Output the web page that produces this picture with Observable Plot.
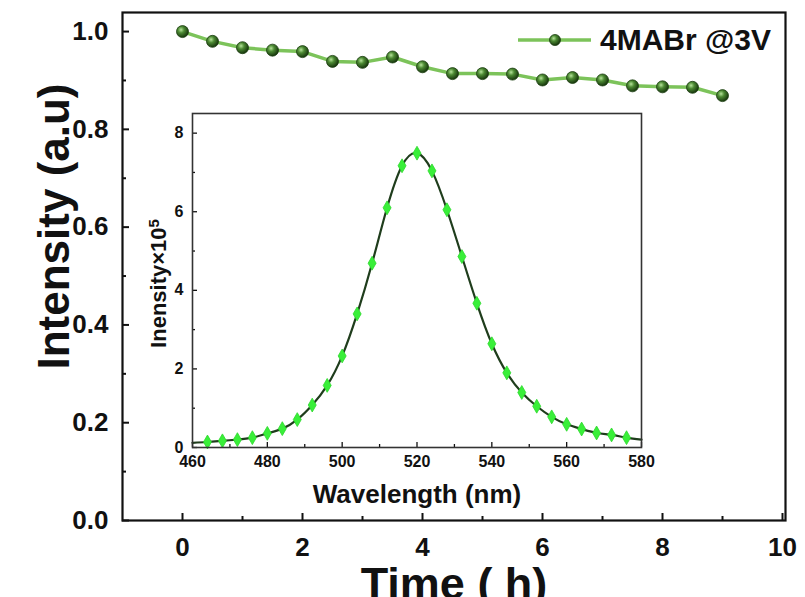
<!DOCTYPE html>
<html>
<head>
<meta charset="utf-8">
<script src="https://cdn.jsdelivr.net/npm/d3@7"></script>
<script src="https://cdn.jsdelivr.net/npm/@observablehq/plot@0.6"></script>
<style>
  body { margin: 0; background: #fff; }
  #wrap { position: relative; width: 805px; height: 597px; overflow: hidden; font-family: "Liberation Sans", Arial, sans-serif; }
  #wrap > svg, #wrap > div { position: absolute; }
</style>
</head>
<body>
<div id="wrap"></div>
<script>
// ---- Main chart data ----
const times = [0, 0.5, 1, 1.5, 2, 2.5, 3, 3.5, 4, 4.5, 5, 5.5, 6, 6.5, 7, 7.5, 8, 8.5, 9];
const intensities = [1.0, 0.980, 0.967, 0.962, 0.959, 0.939, 0.937, 0.948, 0.928, 0.914, 0.914, 0.913, 0.901, 0.906, 0.901, 0.889, 0.887, 0.886, 0.869];
const seriesName = "4MABr @3V";
const xTitle = "Time ( h)";
const yTitle = "Intensity (a.u)";
const xMajorTicks = [0, 2, 4, 6, 8, 10];
const xMinorTicks = [1, 3, 5, 7, 9];
const yMajorTicks = [0, 0.2, 0.4, 0.6, 0.8, 1.0];
const yMinorTicks = [0.1, 0.3, 0.5, 0.7, 0.9];

// ---- Inset data ----
const wavelengths = [464, 468, 472, 476, 480, 484, 488, 492, 496, 500, 504, 508, 512, 516, 520, 524, 528, 532, 536, 540, 544, 548, 552, 556, 560, 564, 568, 572, 576];
const plValues = [0.14, 0.17, 0.20, 0.25, 0.36, 0.48, 0.71, 1.08, 1.58, 2.33, 3.40, 4.69, 6.10, 7.17, 7.49, 7.04, 6.05, 4.86, 3.67, 2.64, 1.90, 1.40, 1.05, 0.78, 0.59, 0.47, 0.37, 0.32, 0.25];
const curveWavelengths = [460, 464, 468, 472, 476, 480, 484, 488, 492, 496, 500, 504, 508, 512, 516, 520, 524, 528, 532, 536, 540, 544, 548, 552, 556, 560, 564, 568, 572, 576, 580];
const curveValues = [0.12, 0.14, 0.17, 0.20, 0.25, 0.36, 0.48, 0.71, 1.08, 1.58, 2.33, 3.40, 4.69, 6.10, 7.17, 7.49, 7.04, 6.05, 4.86, 3.67, 2.64, 1.90, 1.40, 1.05, 0.78, 0.59, 0.47, 0.37, 0.32, 0.25, 0.20];
const insetXTitle = "Wavelength (nm)";
const insetYTitleBase = "Inensity\u00d710";
const insetYTitleExp = "5";
const insetXTicks = [460, 480, 500, 520, 540, 560, 580];
const insetXMinor = [470, 490, 510, 530, 550, 570];
const insetYTicks = [0, 2, 4, 6, 8];
const insetYMinor = [1, 3, 5, 7];

const font = "'Liberation Sans', Arial, Helvetica, sans-serif";
const wrap = document.getElementById("wrap");

const mainData = times.map((t, i) => ({time: t, intensity: intensities[i]}));

const main = Plot.plot({
  width: 805, height: 597,
  marginLeft: 122, marginRight: 20, marginTop: 12, marginBottom: 77,
  style: {fontFamily: font, background: "transparent", color: "#111", overflow: "visible"},
  x: {domain: [-1, 10.05]},
  y: {domain: [0, 1.039]},
  marks: [
    Plot.axisX(xMinorTicks, {tickSize: 4, dy: -4, tickFormat: () => "", strokeWidth: 2, label: null}),
    Plot.axisX(xMajorTicks, {tickSize: 7, dy: -7, tickPadding: 17, fontSize: 26, fontWeight: "bold", strokeWidth: 2, tickFormat: d => String(d), label: null}),
    Plot.axisY(yMinorTicks, {tickSize: 4, dx: 4, tickFormat: () => "", strokeWidth: 2, label: null}),
    Plot.axisY(yMajorTicks, {tickSize: 7, dx: 7, tickPadding: 14, fontSize: 26, fontWeight: "bold", strokeWidth: 2, tickFormat: d3.format(".1f"), label: null}),
    Plot.line(mainData, {x: "time", y: "intensity", stroke: "#7cc35a", strokeWidth: 3.5}),
    Plot.dot(mainData, {x: "time", y: "intensity", r: 6, fill: "url(#ball)", stroke: "#1b3d0f", strokeWidth: 0.8}),
    Plot.frame({stroke: "#111", strokeWidth: 2.2}),
    Plot.text([yTitle], {text: d => d, frameAnchor: "left", textAnchor: "middle", lineAnchor: "middle", dx: -68, dy: -40, rotate: -90, fontSize: 44, fontWeight: "bold", fill: "#111"}),
    Plot.text([xTitle], {text: d => d, frameAnchor: "bottom", textAnchor: "middle", lineAnchor: "middle", dy: 64, fontSize: 45, fontWeight: "bold", fill: "#111"})
  ]
});
main.style.left = "0px"; main.style.top = "0px";
wrap.appendChild(main);

// sphere gradient for markers
const defs = d3.select(main).insert("defs", ":first-child");
const grad = defs.append("radialGradient").attr("id", "ball").attr("cx", "38%").attr("cy", "35%").attr("r", "65%");
grad.append("stop").attr("offset", "0%").attr("stop-color", "#b5e39a");
grad.append("stop").attr("offset", "40%").attr("stop-color", "#4c8a33");
grad.append("stop").attr("offset", "100%").attr("stop-color", "#17360d");

// ---- Inset ----
const curveData = curveWavelengths.map((w, i) => ({wl: w, v: curveValues[i]}));
const markerData = wavelengths.map((w, i) => ({wl: w, v: plValues[i]}));

const inset = Plot.plot({
  width: 530, height: 420,
  marginLeft: 62, marginRight: 19, marginTop: 13, marginBottom: 73,
  style: {fontFamily: font, background: "transparent", color: "#111", overflow: "visible"},
  x: {domain: [460, 580]},
  y: {domain: [0, 8.5]},
  marks: [
    Plot.frame({fill: "#fff"}),
    Plot.axisX(insetXMinor, {tickSize: 3, dy: -3, tickFormat: () => "", strokeWidth: 1.3, label: null}),
    Plot.axisX(insetXTicks, {tickSize: 5, dy: -5, tickPadding: 8, fontSize: 16, fontWeight: "bold", strokeWidth: 1.3, tickFormat: d => String(d), label: null}),
    Plot.axisY(insetYMinor, {tickSize: 3, dx: 3, tickFormat: () => "", strokeWidth: 1.3, label: null}),
    Plot.axisY(insetYTicks, {tickSize: 5, dx: 5, tickPadding: 9, fontSize: 16, fontWeight: "bold", strokeWidth: 1.3, tickFormat: d => String(d), label: null}),
    Plot.line(curveData, {x: "wl", y: "v", curve: "natural", stroke: "#1f3d1c", strokeWidth: 2.2}),
    Plot.dot(markerData, {x: "wl", y: "v", symbol: "diamond", r: 4.2, fill: "#39ef39", stroke: "#2bd82b", strokeWidth: 0.8}),
    Plot.frame({stroke: "#333", strokeWidth: 1.6}),
    Plot.text([insetXTitle], {text: d => d, frameAnchor: "bottom", textAnchor: "middle", lineAnchor: "middle", dy: 47, fontSize: 26, fontWeight: "bold", fill: "#111"}),
    Plot.text([insetYTitleBase], {text: d => d, frameAnchor: "left", textAnchor: "middle", lineAnchor: "middle", dx: -34, dy: 3, rotate: -90, fontSize: 22, fontWeight: "bold", fill: "#111"})
  ]
});
inset.style.left = "130px"; inset.style.top = "100px";
wrap.appendChild(inset);

// superscript exponent on the inset y title
d3.select(inset).selectAll("text").filter(function() { return this.textContent === insetYTitleBase; })
  .append("tspan").attr("dy", "-0.45em").attr("font-size", "15").text(insetYTitleExp);

// ---- Legend ----
const leg = d3.select(wrap).append("svg")
  .attr("width", 290).attr("height", 40)
  .style("left", "510px").style("top", "20px")
  .style("position", "absolute")
  .style("overflow", "visible");
leg.append("line").attr("x1", 8).attr("x2", 81).attr("y1", 20).attr("y2", 20)
  .attr("stroke", "#7cc35a").attr("stroke-width", 3.5);
leg.append("circle").attr("cx", 45).attr("cy", 20).attr("r", 5.5)
  .attr("fill", "url(#ball)").attr("stroke", "#1b3d0f").attr("stroke-width", 0.8);
leg.append("text").attr("x", 90).attr("y", 30)
  .attr("font-family", font).attr("font-size", 30).attr("font-weight", "bold").attr("fill", "#111")
  .text(seriesName);
</script>
</body>
</html>
